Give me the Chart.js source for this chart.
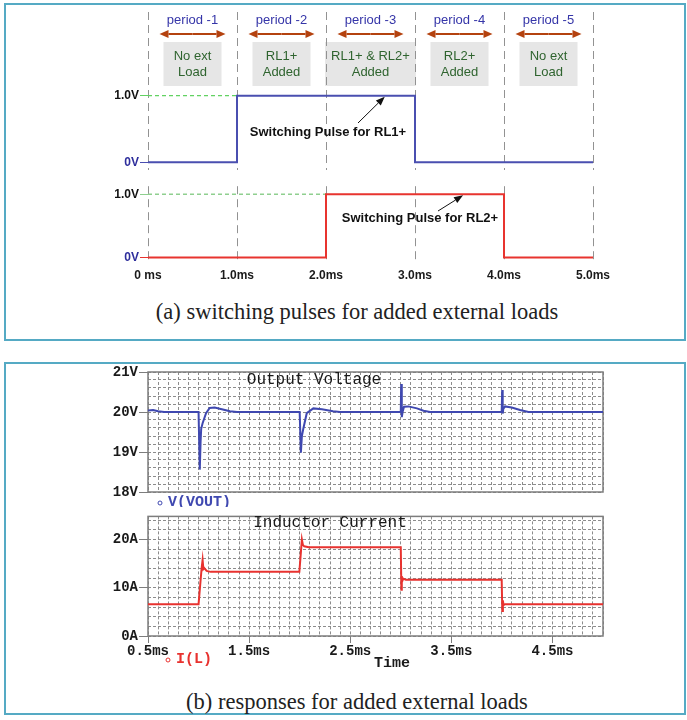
<!DOCTYPE html>
<html>
<head>
<meta charset="utf-8">
<title>Switching pulses and load responses</title>
<style>
  body { margin: 0; background: #fff; width: 687px; height: 720px; position: relative; overflow: hidden; }
  .panel { position: absolute; left: 4px; width: 682px; border: 2px solid #55aac4; box-sizing: border-box; }
  .caption { position: absolute; left: 0; width: 714px; text-align: center; font-family: "Liberation Serif", "Times New Roman", serif; font-size: 22.5px; line-height: 24px; color: #222; }
  canvas { position: absolute; left: 0; }
</style>
</head>
<body>
<script src="https://cdn.jsdelivr.net/npm/chart.js@4.4.0/dist/chart.umd.min.js"></script>

<div class="panel" style="top:3px;height:338px"></div>
<div class="panel" style="top:362px;height:353px"></div>

<canvas id="pulse1" width="687" height="178" style="top:0px"></canvas>
<canvas id="pulse2" width="687" height="112" style="top:178px"></canvas>
<div class="caption" style="top:300px">(a) switching pulses for added external loads</div>

<canvas id="vout" width="687" height="145" style="top:362px"></canvas>
<canvas id="iload" width="687" height="165" style="top:507px"></canvas>
<div class="caption" style="top:690px">(b) responses for added external loads</div>

<script>
  // ---------- data ----------
  // period boundaries (ms) and what load is on in each one
  var periodEdges = [0, 1, 2, 3, 4, 5];
  var periodNames = ['period -1', 'period -2', 'period -3', 'period -4', 'period -5'];
  var periodLoads = [['No ext', 'Load'], ['RL1+', 'Added'], ['RL1+ & RL2+', 'Added'], ['RL2+', 'Added'], ['No ext', 'Load']];

  // switching pulses (ms, V)
  var rl1Time  = [0, 1, 1, 3, 3, 5];
  var rl1Level = [0, 0, 1, 1, 0, 0];
  var rl2Time  = [0, 2, 2, 4, 4, 5];
  var rl2Level = [0, 0, 1, 1, 0, 0];
  var pulseTickLabels = ['0V', '1.0V'];
  var pulseTimeLabels = ['0 ms', '1.0ms', '2.0ms', '3.0ms', '4.0ms', '5.0ms'];

  // output voltage V(VOUT) (ms, V)
  var voutTime  = [0.50, 0.55, 0.60, 0.66, 1.000, 1.012, 1.020, 1.026, 1.040, 1.074, 1.11, 1.16, 1.23, 1.31, 1.38,
                   2.000, 2.012, 2.022, 2.036, 2.07, 2.135, 2.22, 2.33, 2.40,
                   3.000, 3.004, 3.008, 3.012, 3.018, 3.032, 3.075, 3.16, 3.225, 3.29,
                   3.998, 4.003, 4.008, 4.014, 4.031, 4.097, 4.18, 4.262, 5.00];
  var voutVolts = [20.04, 20.05, 20.02, 20.00, 20.00, 18.56, 19.25, 19.58, 19.72, 19.97, 20.10, 20.11, 20.07, 20.02, 20.00,
                   20.00, 18.98, 19.40, 19.58, 19.97, 20.09, 20.07, 20.02, 20.00,
                   20.00, 20.70, 20.30, 19.87, 20.00, 20.13, 20.14, 20.09, 20.03, 20.00,
                   20.00, 20.55, 19.96, 20.08, 20.14, 20.11, 20.05, 20.00, 20.00];

  // inductor current I(L) (ms, A)
  var ilTime = [0.50, 1.000, 1.030, 1.040, 1.048, 1.056, 1.08, 1.12, 1.997,
                2.022, 2.032, 2.045, 2.09, 3.000,
                3.006, 3.010, 3.015, 3.025, 3.05, 3.998,
                4.004, 4.010, 4.016, 4.031, 5.00];
  var ilAmps = [6.6, 6.6, 14.0, 15.8, 13.9, 14.1, 13.5, 13.3, 13.3,
                20.0, 18.9, 18.6, 18.4, 18.4,
                9.6, 12.4, 11.4, 11.9, 11.65, 11.65,
                5.2, 7.4, 6.4, 6.6, 6.6];

  var voltLabelValues = [18, 19, 20, 21];
  var ampLabelValues  = [0, 10, 20];
  var timeLabelValues = [0.5, 1.5, 2.5, 3.5, 4.5];

  // ---------- helpers ----------
  var SANS = '"Liberation Sans", Arial, sans-serif';
  var MONO = '"Liberation Mono", "Courier New", monospace';

  function toPoints(xs, ys) {
    return xs.map(function(x, i) { return {x: x, y: ys[i]}; });
  }

  function gridValues(min, max, step) {
    var out = [];
    var n = Math.round((max - min) / step);
    for (var i = 0; i <= n; i++) out.push({value: Math.round((min + i * step) * 1000) / 1000});
    return out;
  }

  function inList(v, list) {
    return list.some(function(l) { return Math.abs(l - v) < 1e-6; });
  }

  function drawArrow(ctx, x1, y1, x2, y2, color, width, headLen, headHalf) {
    var a = Math.atan2(y2 - y1, x2 - x1);
    var bx = x2 - Math.cos(a) * headLen, by = y2 - Math.sin(a) * headLen;
    ctx.save();
    ctx.strokeStyle = color;
    ctx.fillStyle = color;
    ctx.lineWidth = width;
    ctx.beginPath();
    ctx.moveTo(x1, y1);
    ctx.lineTo(bx, by);
    ctx.stroke();
    ctx.beginPath();
    ctx.moveTo(x2, y2);
    ctx.lineTo(bx + Math.sin(a) * headHalf, by - Math.cos(a) * headHalf);
    ctx.lineTo(bx - Math.sin(a) * headHalf, by + Math.cos(a) * headHalf);
    ctx.closePath();
    ctx.fill();
    ctx.restore();
  }

  // ---------- (a) pulses ----------
  var periodPlugin = {
    id: 'periods',
    beforeDraw: function(chart) {
      var ctx = chart.ctx, xs = chart.scales.x;
      ctx.save();
      ctx.textAlign = 'center';
      ctx.textBaseline = 'middle';
      for (var i = 0; i < periodNames.length; i++) {
        var mid = xs.getPixelForValue((periodEdges[i] + periodEdges[i + 1]) / 2);
        ctx.font = '13px ' + SANS;
        ctx.fillStyle = '#3535a8';
        ctx.fillText(periodNames[i], mid, 20);

        drawArrow(ctx, mid, 34, mid - 33, 34, '#b4420f', 2, 9, 4);
        drawArrow(ctx, mid, 34, mid + 33, 34, '#b4420f', 2, 9, 4);

        var lines = periodLoads[i];
        var w = Math.max(58, ctx.measureText(lines[0]).width + 12);
        ctx.fillStyle = '#e6e6e6';
        ctx.fillRect(mid - w / 2, 42, w, 44);
        ctx.fillStyle = '#2f642f';
        ctx.fillText(lines[0], mid, 56);
        ctx.fillText(lines[1], mid, 72);
      }
      ctx.restore();
    }
  };

  function noteText(ctx, text, x, y) {
    ctx.save();
    ctx.font = 'bold 13px ' + SANS;
    ctx.fillStyle = '#111';
    ctx.textAlign = 'center';
    ctx.textBaseline = 'middle';
    ctx.fillText(text, x, y);
    ctx.restore();
  }

  var note1Plugin = {
    id: 'note1',
    afterDraw: function(chart) {
      var xs = chart.scales.x, ys = chart.scales.y;
      noteText(chart.ctx, 'Switching Pulse for RL1+', 328, 132);
      drawArrow(chart.ctx, 358, 123, xs.getPixelForValue(2.66), ys.getPixelForValue(1) + 1, '#111', 1, 9, 3.5);
    }
  };

  var note2Plugin = {
    id: 'note2',
    afterDraw: function(chart) {
      var xs = chart.scales.x, ys = chart.scales.y;
      noteText(chart.ctx, 'Switching Pulse for RL2+', 420, 40);
      drawArrow(chart.ctx, 438, 33, xs.getPixelForValue(3.54), ys.getPixelForValue(1) + 1, '#111', 1, 9, 3.5);
    }
  };

  function pulseChart(id, times, levels, color, guideColor, yMin, yMax, padTop, xHeight, showTime, plugins) {
    var riseAt = times[levels.indexOf(1)];
    return new Chart(document.getElementById(id), {
      type: 'line',
      data: {
        datasets: [{
          data: toPoints(times, levels),
          borderColor: color,
          borderWidth: 2,
          pointRadius: 0,
          tension: 0
        }, {
          data: [{x: 0, y: 1}, {x: riseAt, y: 1}],
          borderColor: guideColor,
          borderWidth: 1.4,
          borderDash: [4, 3],
          pointRadius: 0
        }]
      },
      options: {
        responsive: false,
        animation: false,
        events: [],
        layout: {padding: {top: padTop, right: 94, bottom: 0, left: 0}},
        plugins: {legend: {display: false}, tooltip: {enabled: false}},
        scales: {
          x: {
            type: 'linear', min: 0, max: 5,
            afterBuildTicks: function(s) { s.ticks = periodEdges.map(function(v) { return {value: v}; }); },
            ticks: {
              display: showTime, autoSkip: false, maxRotation: 0, padding: 6,
              color: '#1a1a1a', font: {family: SANS, size: 12, weight: 'bold'},
              callback: function(v) { return pulseTimeLabels[periodEdges.indexOf(v)]; }
            },
            grid: {color: '#929292', lineWidth: 1, drawTicks: false},
            border: {display: false, dash: [8, 5]},
            afterFit: function(s) { s.height = xHeight; }
          },
          y: {
            min: yMin, max: yMax,
            afterBuildTicks: function(s) { s.ticks = [{value: 0}, {value: 1}]; },
            ticks: {
              autoSkip: false, padding: 1,
              font: {family: SANS, size: 12, weight: 'bold'},
              color: function(c) { return c.tick && c.tick.value === 0 ? '#2e2e9c' : '#111'; },
              callback: function(v) { return pulseTickLabels[v]; }
            },
            grid: {
              drawOnChartArea: false, tickLength: 8,
              tickColor: function(c) { return c.tick && c.tick.value === 0 ? color : guideColor; }
            },
            border: {display: false},
            afterFit: function(s) { s.width = 148; }
          }
        }
      },
      plugins: plugins
    });
  }

  // blue pulse: 1.0V at y=100, 0V at y=170 in a 12..178 area
  pulseChart('pulse1', rl1Time, rl1Level, '#4a4fb0', '#62d262', -8 / 70, 1 + 88 / 70, 12, 0, false, [periodPlugin, note1Plugin]);
  // red pulse: 1.0V at y=9, 0V at y=79 in a 0..84 area
  pulseChart('pulse2', rl2Time, rl2Level, '#e8342f', '#8fcf8f', -5 / 70, 1 + 9 / 70, 0, 28, true, [note2Plugin]);

  // ---------- (b) responses ----------
  var framePlugin = {
    id: 'frame',
    beforeDatasetsDraw: function(chart) {
      var a = chart.chartArea, ctx = chart.ctx;
      ctx.save();
      ctx.strokeStyle = '#7d7d7d';
      ctx.lineWidth = 1.5;
      ctx.strokeRect(a.left, a.top, a.right - a.left, a.bottom - a.top);
      ctx.restore();
    }
  };

  function labelsPlugin(title, titleX, titleY, legend, legendX, legendY, color, extra) {
    return {
      id: 'labels',
      afterDraw: function(chart) {
        var ctx = chart.ctx;
        ctx.save();
        ctx.textBaseline = 'middle';
        ctx.textAlign = 'center';
        ctx.font = '16px ' + MONO;
        ctx.fillStyle = '#1a1a1a';
        ctx.fillText(title, titleX, titleY);

        ctx.strokeStyle = color;
        ctx.lineWidth = 1;
        ctx.beginPath();
        ctx.arc(legendX - 8, legendY + 1, 2, 0, Math.PI * 2);
        ctx.stroke();
        ctx.textAlign = 'left';
        ctx.font = 'bold 15px ' + MONO;
        ctx.fillStyle = color;
        ctx.fillText(legend, legendX, legendY);

        if (extra) {
          ctx.textAlign = 'center';
          ctx.font = 'bold 15px ' + MONO;
          ctx.fillStyle = '#1a1a1a';
          ctx.fillText(extra.text, extra.x, extra.y);
        }
        ctx.restore();
      }
    };
  }

  function spiceChart(id, times, values, color, yMin, yMax, yGridMax, yStep, yLabels, unit, padTop, xHeight, showTime, labels) {
    var gridColor = '#8c8c8c';
    return new Chart(document.getElementById(id), {
      type: 'line',
      data: {
        datasets: [{
          data: toPoints(times, values),
          borderColor: color,
          borderWidth: 2,
          pointRadius: 0,
          tension: 0
        }]
      },
      options: {
        responsive: false,
        animation: false,
        events: [],
        layout: {padding: {top: padTop, right: 84, bottom: 0, left: 0}},
        plugins: {legend: {display: false}, tooltip: {enabled: false}},
        scales: {
          x: {
            type: 'linear', min: 0.5, max: 5.0,
            afterBuildTicks: function(s) { s.ticks = gridValues(0.5, 5.0, 0.1); },
            ticks: {
              display: showTime, autoSkip: false, maxRotation: 0, minRotation: 0, padding: 0,
              color: '#1a1a1a', font: {family: MONO, size: 14, weight: 'bold'},
              callback: function(v) { return inList(v, timeLabelValues) ? v.toFixed(1) + 'ms' : ''; }
            },
            grid: {
              color: gridColor, lineWidth: 1, drawTicks: showTime, tickLength: 7,
              tickColor: function(c) { return c.tick && inList(c.tick.value, timeLabelValues) ? '#7d7d7d' : 'rgba(0,0,0,0)'; }
            },
            border: {display: false, dash: [3, 2]},
            afterFit: function(s) { s.height = xHeight; }
          },
          y: {
            min: yMin, max: yMax,
            afterBuildTicks: function(s) { s.ticks = gridValues(yMin, yGridMax, yStep); },
            ticks: {
              autoSkip: false, padding: 1,
              color: '#1a1a1a', font: {family: MONO, size: 14, weight: 'bold'},
              callback: function(v) { return inList(v, yLabels) ? Math.round(v) + unit : ''; }
            },
            grid: {
              color: gridColor, lineWidth: 1, tickLength: 9,
              tickColor: function(c) { return c.tick && inList(c.tick.value, yLabels) ? '#7d7d7d' : 'rgba(0,0,0,0)'; }
            },
            border: {display: false, dash: [3, 2]},
            afterFit: function(s) { s.width = 148; }
          }
        }
      },
      plugins: [framePlugin, labels]
    });
  }

  spiceChart('vout', voutTime, voutVolts, '#3f48b0', 18, 21, 21, 0.2, voltLabelValues, 'V', 10, 15, false,
    labelsPlugin('Output Voltage', 314, 18, 'V(VOUT)', 168, 140, '#3f48b0'));

  spiceChart('iload', ilTime, ilAmps, '#e8322f', 0, 24.8, 24, 2, ampLabelValues, 'A', 6, 36, true,
    labelsPlugin('Inductor Current', 330, 16, 'I(L)', 176, 152, '#e8322f', {text: 'Time', x: 392, y: 156}));
</script>
</body>
</html>
